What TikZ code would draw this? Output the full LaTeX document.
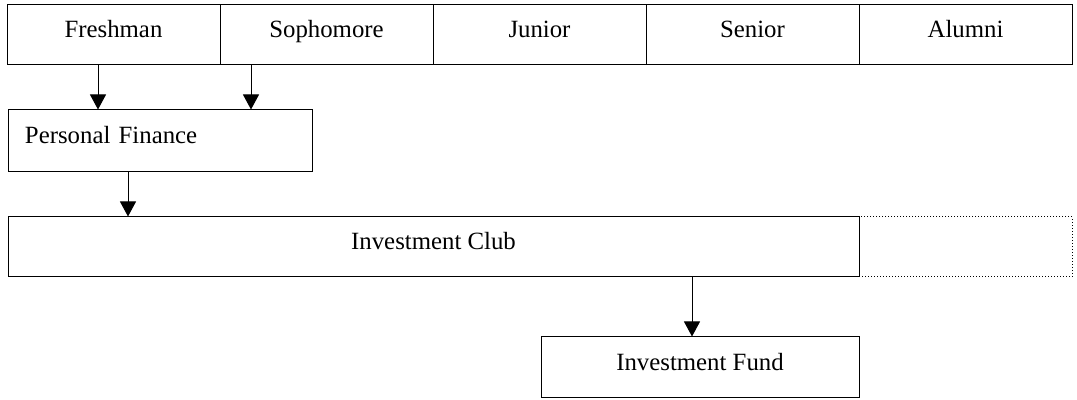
\documentclass[tikz,border=0pt]{standalone}
\usepackage{fontspec}
\setmainfont{Liberation Serif}
\usetikzlibrary{arrows.meta}
\begin{document}
\begin{tikzpicture}[x=0.5pt,y=-0.5pt,
    box/.style={draw,line width=0.5pt,inner sep=0pt,text height=8pt,text depth=5pt,font=\fontsize{12.4}{15}\selectfont},
    year/.style={box,minimum width=106.5pt,minimum height=30pt},
    arr/.style={line width=0.5pt,-{Triangle[length=7.5pt,width=8pt]}}]
        \useasboundingbox (0,0) rectangle (1077,400);

        % class years
        \node[year] (fresh) at (113.5,35) {Freshman};
        \node[year] (soph) at (326.5,35) {Sophomore};
        \node[year] (junior) at (539.5,35) {Junior};
        \node[year] (senior) at (752.5,35) {Senior};
        \node[year] (alumni) at (965.5,35) {Alumni};

        \node[box,minimum width=152pt,minimum height=31pt,text width=135pt,align=left] (pf) at (160,141) {Personal Finance};
        \node[box,minimum width=425.5pt,minimum height=30pt] (club) at (433.5,247) {Investment Club};
        \node[draw,densely dotted,line width=0.5pt,minimum width=106.5pt,minimum height=30pt] (clubext) at (965.5,247) {};
        \node[box,minimum width=159pt,minimum height=30.5pt] (fund) at (700,367.5) {Investment Fund};

        \coordinate (a1) at (98,0);
        \coordinate (a2) at (251,0);
        \coordinate (a3) at (128,0);
        \coordinate (a4) at (692,0);

        \draw[arr] (a1 |- fresh.south) -- (a1 |- pf.north);
        \draw[arr] (a2 |- soph.south) -- (a2 |- pf.north);
        \draw[arr] (a3 |- pf.south) -- (a3 |- club.north);
        \draw[arr] (a4 |- club.south) -- (a4 |- fund.north);
    \end{tikzpicture}
\end{document}
